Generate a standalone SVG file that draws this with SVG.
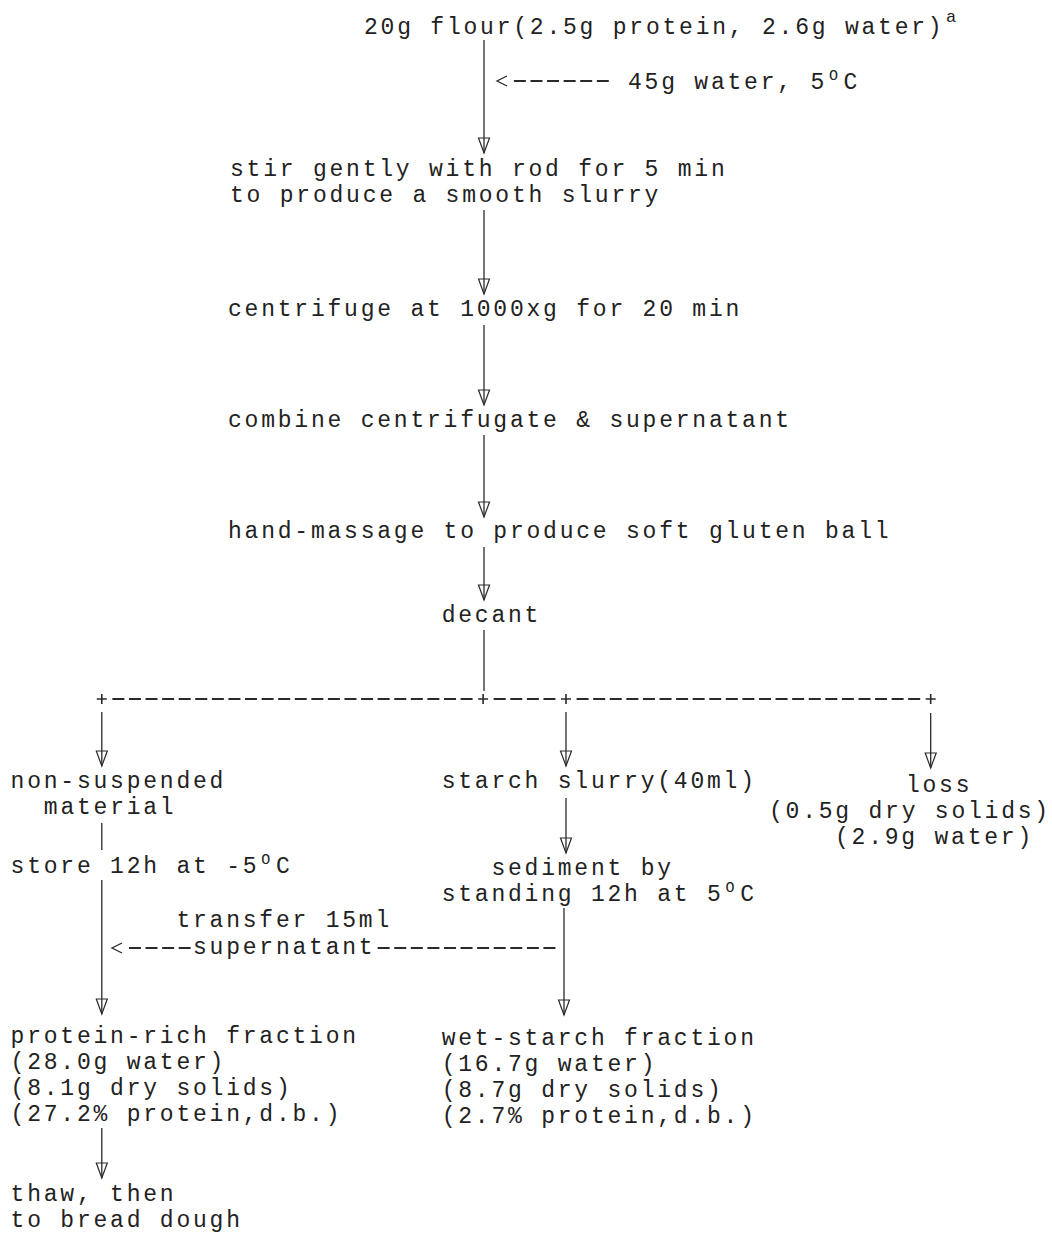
<svg xmlns="http://www.w3.org/2000/svg" width="1052" height="1236" viewBox="0 0 1052 1236">
<defs>
<style>
text{font-family:"Liberation Mono","DejaVu Sans Mono",monospace;font-size:23px;letter-spacing:2.78px;fill:#222222;}
.sup{font-size:15px;}
.ln{stroke:#2a2a2a;stroke-width:1.3;fill:none;}
.arr{marker-end:url(#ah);}
.dash{stroke:#2a2a2a;stroke-width:2;stroke-dasharray:12 4.58;fill:none;}
.plus{stroke:#2a2a2a;stroke-width:1.6;fill:none;}
</style>
<marker id="ah" markerUnits="userSpaceOnUse" markerWidth="20" markerHeight="16" viewBox="-17 -8 20 16" refX="0" refY="0" orient="auto">
<path d="M-15,-5.5 L-15,5.5 L0,0 Z" fill="none" stroke="#2a2a2a" stroke-width="1.2"/>
</marker>
</defs>
<rect width="1052" height="1236" fill="#ffffff"/>

<g id="connectors">
<line class="ln arr" x1="484" y1="40" x2="484" y2="153"/>
<line class="ln arr" x1="484" y1="210" x2="484" y2="294"/>
<line class="ln arr" x1="484" y1="325" x2="484" y2="405"/>
<line class="ln arr" x1="484" y1="435" x2="484" y2="517"/>
<line class="ln arr" x1="484" y1="547" x2="484" y2="600"/>
<line class="ln" x1="484" y1="630" x2="484" y2="691"/>
<!-- water input arrow -->
<path class="ln" d="M507,76 L497,81 L507,86"/>
<line class="dash" x1="513.9" y1="81" x2="608.8" y2="81"/>
<!-- split line -->
<line class="dash" x1="112.37" y1="699" x2="472.55" y2="699"/>
<line class="dash" x1="493.71" y1="699" x2="555.45" y2="699"/>
<line class="dash" x1="576.61" y1="699" x2="920.21" y2="699"/>
<path class="plus" d="M96.8,699 H106.8 M101.8,694 V704 M478.1,699 H488.1 M483.1,694 V704 M561,699 H571 M566,694 V704 M925.7,699 H935.7 M930.7,694 V704"/>
<line class="ln arr" x1="101.8" y1="712" x2="101.8" y2="766"/>
<line class="ln arr" x1="566" y1="712" x2="566" y2="766"/>
<line class="ln arr" x1="930.7" y1="713" x2="930.7" y2="768"/>
<line class="ln" x1="101.8" y1="823" x2="101.8" y2="850"/>
<line class="ln arr" x1="566" y1="798" x2="566" y2="853"/>
<line class="ln arr" x1="101.8" y1="880" x2="101.8" y2="1014"/>
<line class="ln arr" x1="564" y1="908" x2="564" y2="1015"/>
<!-- supernatant transfer -->
<path class="ln" d="M122,943 L112,948 L122,953"/>
<line class="dash" x1="128.95" y1="948" x2="190.69" y2="948"/>
<line class="dash" x1="377.65" y1="948" x2="555.45" y2="948"/>
<line class="ln arr" x1="101.8" y1="1128" x2="101.8" y2="1178"/>
</g>

<g id="flour">
<text x="364" y="34">20g flour(2.5g protein, 2.6g water)</text>
<text x="946" y="22" style="font-size:17px">a</text>
</g>
<g id="water">
<text x="628" y="89">45g water, 5<tspan class="sup" dy="-9" dx="2">O</tspan><tspan dy="9" dx="2.8">C</tspan></text>
</g>
<g id="stir">
<text x="230" y="176">stir gently with rod for 5 min</text>
<text x="230" y="202">to produce a smooth slurry</text>
</g>
<g id="centrifuge">
<text x="228" y="316">centrifuge at 1000xg for 20 min</text>
</g>
<g id="combine">
<text x="228" y="427">combine centrifugate &amp; supernatant</text>
</g>
<g id="massage">
<text x="228" y="538">hand-massage to produce soft gluten ball</text>
</g>
<g id="decant">
<text x="441.7" y="622">decant</text>
</g>
<g id="non-suspended">
<text x="10.6" y="788">non-suspended</text>
<text x="43.8" y="814">material</text>
</g>
<g id="starch-slurry">
<text x="441.7" y="788">starch slurry(40ml)</text>
</g>
<g id="loss">
<text x="905.9" y="792">loss</text>
<text x="769" y="818">(0.5g dry solids)</text>
<text x="835" y="844">(2.9g water)</text>
</g>
<g id="store">
<text x="10.6" y="873">store 12h at -5<tspan class="sup" dy="-9" dx="2">O</tspan><tspan dy="9" dx="2.8">C</tspan></text>
</g>
<g id="sediment">
<text x="491.4" y="875">sediment by</text>
<text x="441.7" y="901">standing 12h at 5<tspan class="sup" dy="-9" dx="2">O</tspan><tspan dy="9" dx="2.8">C</tspan></text>
</g>
<g id="transfer-label">
<text x="176.4" y="927">transfer 15ml</text>
<text x="193" y="954">supernatant</text>
</g>
<g id="protein-rich">
<text x="10.6" y="1043">protein-rich fraction</text>
<text x="10.6" y="1069">(28.0g water)</text>
<text x="10.6" y="1095">(8.1g dry solids)</text>
<text x="10.6" y="1121">(27.2% protein,d.b.)</text>
</g>
<g id="wet-starch">
<text x="441.7" y="1045">wet-starch fraction</text>
<text x="441.7" y="1071">(16.7g water)</text>
<text x="441.7" y="1097">(8.7g dry solids)</text>
<text x="441.7" y="1123">(2.7% protein,d.b.)</text>
</g>
<g id="thaw">
<text x="10.6" y="1201">thaw, then</text>
<text x="10.6" y="1227">to bread dough</text>
</g>
</svg>
